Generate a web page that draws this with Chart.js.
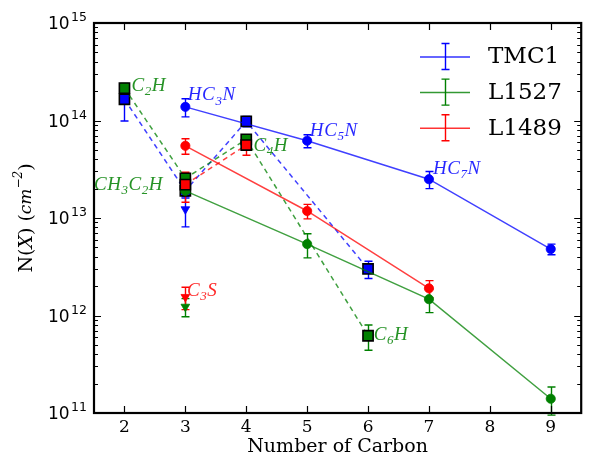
<!DOCTYPE html>
<html><head><meta charset="utf-8">
<script src="https://cdn.jsdelivr.net/npm/chart.js@4.4.0/dist/chart.umd.min.js"></script>
<style>html,body{margin:0;padding:0;background:#fff}#wrap{width:590px;height:461px}</style>
</head><body><div id="wrap"><canvas id="c" width="590" height="461"></canvas></div>
<script>
// ---- tick values ----
const xTickValues = [2, 3, 4, 5, 6, 7, 8, 9];
const yDecadeExps = [11, 12, 13, 14, 15];
const xTitle = 'Number of Carbon';

// ---- series names / colours ----
const seriesNames = ['TMC1', 'L1527', 'L1489'];
const seriesColors = ['#0000ff', '#008000', '#ff0000'];

// ---- TMC1 ----
const tmc1SolidX = [3, 5, 7, 9];
const tmc1SolidY = [1.38e14, 6.2e13, 2.5e13, 4.8e12];
const tmc1SolidErr = [2.9e13, 9.5e12, 5e12, 6e11];
const tmc1DashX = [2, 3, 4, 6];
const tmc1DashY = [1.65e14, 1.9e13, 9.8e13, 3.0e12];
const tmc1DashErr = [6.6e13, 3e12, 1.2e13, 6e11];
const tmc1TriX = [3];
const tmc1TriY = [1.23e13];
const tmc1TriErr = [4.2e12];

// ---- L1527 ----
const l1527SolidX = [3, 5, 7, 9];
const l1527SolidY = [1.9e13, 5.4e12, 1.47e12, 1.4e11];
const l1527SolidErr = [1.5e12, 1.5e12, 4e11, 4.5e10];
const l1527DashX = [2, 3, 4, 6];
const l1527DashY = [2.15e14, 2.55e13, 6.4e13, 6.2e11];
const l1527DashErr = [2.5e13, 2e12, 5e12, 1.8e11];
const l1527TriX = [3];
const l1527TriY = [1.23e12];
const l1527TriErr = [2.6e11];

// ---- L1489 ----
const l1489SolidX = [3, 5, 7];
const l1489SolidY = [5.5e13, 1.18e13, 1.9e12];
const l1489SolidErr = [1.0e13, 2e12, 3.8e11];
const l1489DashX = [3, 4];
const l1489DashY = [2.2e13, 5.6e13];
const l1489DashErr = [7.5e12, 1.2e13];
const l1489TriX = [3];
const l1489TriY = [1.55e12];
const l1489TriErr = [4e11];

// ---- molecule annotations ----
const annText = ['C_2H', 'HC_3N', 'C_4H', 'CH_3C_2H', 'HC_5N', 'HC_7N', 'C_3S', 'C_6H'];
const annX = [2.114, 3.04, 4.12, 1.5, 5.044, 7.065, 3.026, 6.093];
const annY = [2.31e14, 1.86e14, 5.61e13, 2.27e13, 8.13e13, 3.31e13, 1.83e12, 6.56e11];
const annSeries = [1, 0, 1, 1, 0, 0, 2, 1];

// ---------------------------------------------------------------
function rgba(hex, a) {
  const r = parseInt(hex.slice(1, 3), 16), g = parseInt(hex.slice(3, 5), 16), b = parseInt(hex.slice(5, 7), 16);
  return `rgba(${r},${g},${b},${a})`;
}
function makeDs(si, xs, ys, errs, kind, order) {
  const col = seriesColors[si];
  const base = {
    label: seriesNames[si] + '-' + kind,
    data: xs.map((x, i) => ({ x: x, y: ys[i] })),
    errs: errs,
    errColor: col,
    order: order,
    fill: false,
    tension: 0,
    borderWidth: 1.5,
    borderColor: rgba(col, 0.75),
    pointBackgroundColor: col,
  };
  if (kind === 'solid') {
    Object.assign(base, { showLine: true, pointStyle: 'circle', pointRadius: 4.6, pointBorderColor: col, pointBorderWidth: 0.8 });
  } else if (kind === 'dash') {
    Object.assign(base, { showLine: true, borderDash: [5, 4], pointStyle: 'rect', pointRadius: 7.2, pointBorderColor: '#000', pointBorderWidth: 1.6 });
  } else {
    Object.assign(base, { showLine: false, pointStyle: 'triangle', pointRotation: 180, pointRadius: 5, pointBorderColor: col, pointBorderWidth: 0.8 });
  }
  base.pointHoverRadius = base.pointRadius;
  return base;
}

const datasets = [
  makeDs(2, l1489SolidX, l1489SolidY, l1489SolidErr, 'solid', 1),
  makeDs(2, l1489DashX, l1489DashY, l1489DashErr, 'dash', 2),
  makeDs(2, l1489TriX, l1489TriY, l1489TriErr, 'tri', 3),
  makeDs(1, l1527SolidX, l1527SolidY, l1527SolidErr, 'solid', 4),
  makeDs(1, l1527DashX, l1527DashY, l1527DashErr, 'dash', 5),
  makeDs(1, l1527TriX, l1527TriY, l1527TriErr, 'tri', 6),
  makeDs(0, tmc1SolidX, tmc1SolidY, tmc1SolidErr, 'solid', 7),
  makeDs(0, tmc1DashX, tmc1DashY, tmc1DashErr, 'dash', 8),
  makeDs(0, tmc1TriX, tmc1TriY, tmc1TriErr, 'tri', 9),
];

// ---- error bars ----
const errorBars = {
  id: 'errorBars',
  beforeDatasetsDraw(chart) {
    const ctx = chart.ctx, xs = chart.scales.x, ys = chart.scales.y;
    ctx.save();
    chart.data.datasets.slice().reverse().forEach(ds => {
      if (!ds.errs) return;
      ctx.strokeStyle = ds.errColor;
      ctx.lineWidth = 1.4;
      ds.data.forEach((p, i) => {
        const e = ds.errs[i];
        const px = Math.round(xs.getPixelForValue(p.x)) + 0.5;
        const top = ys.getPixelForValue(p.y + e);
        const bot = ys.getPixelForValue(Math.max(p.y - e, 1e5));
        ctx.beginPath();
        ctx.moveTo(px, top); ctx.lineTo(px, bot);
        ctx.moveTo(px - 4, top); ctx.lineTo(px + 4, top);
        ctx.moveTo(px - 4, bot); ctx.lineTo(px + 4, bot);
        ctx.stroke();
      });
    });
    ctx.restore();
  }
};

// ---- math-like text with subscripts ----
function drawMath(ctx, str, x, y, size, color) {
  ctx.save();
  ctx.fillStyle = color;
  ctx.textBaseline = 'alphabetic';
  ctx.textAlign = 'left';
  let cx = x;
  for (let i = 0; i < str.length; i++) {
    const ch = str[i];
    if (ch === '_') {
      const s = str[++i];
      ctx.font = `italic ${Math.round(size * 0.7)}px "Liberation Serif"`;
      ctx.fillText(s, cx, y + size * 0.22);
      cx += ctx.measureText(s).width + 0.5;
    } else {
      ctx.font = `italic ${size}px "Liberation Serif"`;
      ctx.fillText(ch, cx, y);
      cx += ctx.measureText(ch).width + 0.6;
    }
  }
  ctx.restore();
}

const annotations = {
  id: 'annotations',
  afterDatasetsDraw(chart) {
    const ctx = chart.ctx, xs = chart.scales.x, ys = chart.scales.y;
    const size = 19;
    annText.forEach((t, i) => {
      const px = xs.getPixelForValue(annX[i]);
      const py = ys.getPixelForValue(annY[i]);
      drawMath(ctx, t, px, py + size * 0.33, size, rgba(seriesColors[annSeries[i]], 0.85));
    });
  }
};

// ---- frame, inward ticks, y tick labels, legend, y title ----
const frame = {
  id: 'frame',
  afterDraw(chart) {
    const ctx = chart.ctx, a = chart.chartArea, xs = chart.scales.x, ys = chart.scales.y;
    ctx.save();
    ctx.strokeStyle = '#000';
    ctx.lineWidth = 1.2;
    ctx.beginPath();
    xTickValues.forEach(v => {
      const px = Math.round(xs.getPixelForValue(v)) + 0.5;
      ctx.moveTo(px, a.bottom); ctx.lineTo(px, a.bottom - 7);
      ctx.moveTo(px, a.top); ctx.lineTo(px, a.top + 7);
    });
    yDecadeExps.forEach((e, k) => {
      const py = Math.round(ys.getPixelForValue(Math.pow(10, e))) + 0.5;
      ctx.moveTo(a.left, py); ctx.lineTo(a.left + 7, py);
      ctx.moveTo(a.right, py); ctx.lineTo(a.right - 7, py);
      if (k < yDecadeExps.length - 1) {
        for (let m = 2; m <= 9; m++) {
          const pm = Math.round(ys.getPixelForValue(m * Math.pow(10, e))) + 0.5;
          ctx.moveTo(a.left, pm); ctx.lineTo(a.left + 4, pm);
          ctx.moveTo(a.right, pm); ctx.lineTo(a.right - 4, pm);
        }
      }
    });
    ctx.stroke();
    ctx.lineWidth = 2.2;
    ctx.strokeRect(a.left, a.top, a.right - a.left, a.bottom - a.top);

    // y tick labels: 10^n
    ctx.fillStyle = '#000';
    ctx.textAlign = 'left';
    ctx.textBaseline = 'alphabetic';
    yDecadeExps.forEach(e => {
      const py = ys.getPixelForValue(Math.pow(10, e));
      ctx.font = '17px "DejaVu Sans"';
      const wb = ctx.measureText('10').width;
      ctx.font = '12.5px "DejaVu Sans"';
      const we = ctx.measureText(String(e)).width;
      const right = a.left - 7;
      const x0 = right - we - 1.5 - wb;
      ctx.font = '17px "DejaVu Sans"';
      ctx.fillText('10', x0, py + 6.2);
      ctx.font = '12.5px "DejaVu Sans"';
      ctx.fillText(String(e), x0 + wb + 1.5, py - 2);
    });

    // legend
    const lx = 445, ly0 = 56.5, dy = 35.6;
    seriesNames.forEach((n, i) => {
      const y = ly0 + i * dy;
      const col = seriesColors[i];
      ctx.strokeStyle = rgba(col, 0.8);
      ctx.lineWidth = 1.5;
      ctx.beginPath(); ctx.moveTo(lx - 25, y + 0.5); ctx.lineTo(lx + 25, y + 0.5); ctx.stroke();
      ctx.strokeStyle = col; ctx.lineWidth = 1.4;
      ctx.beginPath();
      ctx.moveTo(lx + 0.5, y - 13); ctx.lineTo(lx + 0.5, y + 13);
      ctx.moveTo(lx - 3.5, y - 13); ctx.lineTo(lx + 4.5, y - 13);
      ctx.moveTo(lx - 3.5, y + 13); ctx.lineTo(lx + 4.5, y + 13);
      ctx.stroke();
      ctx.fillStyle = '#000';
      ctx.font = '23px "DejaVu Serif"';
      ctx.textBaseline = 'middle';
      ctx.textAlign = 'left';
      ctx.fillText(n, 488, y + 1);
    });

    // y-axis title
    ctx.translate(27, (a.top + a.bottom) / 2);
    ctx.rotate(-Math.PI / 2);
    const parts = [
      ['N(', '19px "DejaVu Serif"', 0],
      ['X', 'italic 19px "DejaVu Serif"', 0],
      [') (', '19px "DejaVu Serif"', 0],
      ['cm', 'italic 17px "DejaVu Serif"', 0],
      ['−2', 'italic 12px "DejaVu Serif"', -8],
      [')', '19px "DejaVu Serif"', 0],
    ];
    let w = 0;
    parts.forEach(p => { ctx.font = p[1]; w += ctx.measureText(p[0]).width; });
    let cx = -w / 2;
    ctx.fillStyle = '#000';
    ctx.textBaseline = 'middle';
    ctx.textAlign = 'left';
    parts.forEach(p => { ctx.font = p[1]; ctx.fillText(p[0], cx, p[2]); cx += ctx.measureText(p[0]).width; });
    ctx.restore();
  }
};

Chart.defaults.devicePixelRatio = 1;
new Chart(document.getElementById('c'), {
  type: 'line',
  data: { datasets: datasets },
  options: {
    responsive: false,
    animation: false,
    devicePixelRatio: 1,
    layout: { padding: { left: 0, right: 6, top: 23, bottom: 0 } },
    plugins: { legend: { display: false }, tooltip: { enabled: false } },
    scales: {
      x: {
        type: 'linear', min: 1.5, max: 9.5,
        afterBuildTicks: s => { s.ticks = xTickValues.map(v => ({ value: v })); },
        afterFit: s => { s.height = 48; },
        grid: { display: false, drawTicks: false },
        border: { display: false },
        ticks: { padding: 4, color: '#000', font: { family: 'DejaVu Serif', size: 17 }, callback: v => String(v), autoSkip: false, maxRotation: 0 },
        title: { display: true, text: xTitle, color: '#000', font: { family: 'DejaVu Serif', size: 19 }, padding: { top: 0, bottom: 3 } }
      },
      y: {
        type: 'logarithmic', min: 1e11, max: 1e15,
        afterBuildTicks: s => { s.ticks = yDecadeExps.map(e => ({ value: Math.pow(10, e) })); },
        afterFit: s => { s.width = 94; },
        grid: { display: false, drawTicks: false },
        border: { display: false },
        ticks: { display: false }
      }
    }
  },
  plugins: [errorBars, annotations, frame]
});
</script>
</body></html>
